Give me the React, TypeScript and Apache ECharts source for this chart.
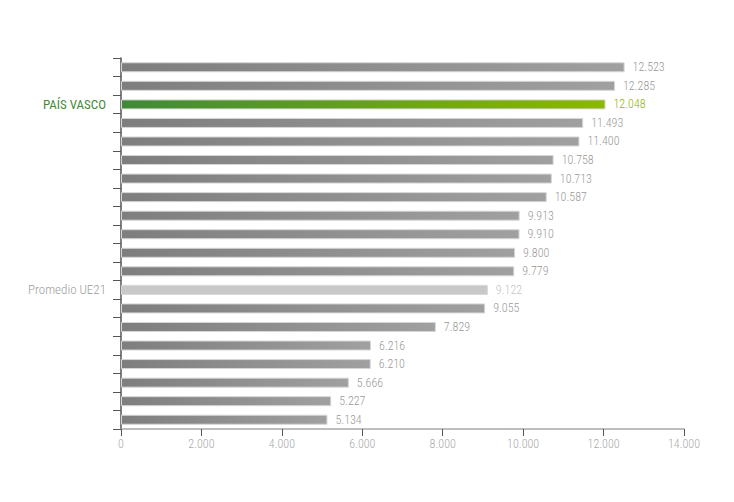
import React, { useEffect, useRef } from "react";
import * as echarts from "echarts";

const categoryLabels: string[] = [
  "", "", "PAÍS VASCO", "", "", "", "", "", "", "", "", "", "Promedio UE21", "", "", "", "", "", "", "",
];
const values: number[] = [
  12523, 12285, 12048, 11493, 11400, 10758, 10713, 10587, 9913, 9910,
  9800, 9779, 9122, 9055, 7829, 6216, 6210, 5666, 5227, 5134,
];
const xTicks: number[] = [0, 2000, 4000, 6000, 8000, 10000, 12000, 14000];

const HIGHLIGHT = "PAÍS VASCO";
const AVERAGE = "Promedio UE21";
const FONT = "'Roboto Condensed', 'DejaVu Sans Condensed', sans-serif";

function fmt(v: number): string {
  return String(Math.round(v)).replace(/\B(?=(\d{3})+(?!\d))/g, ".");
}

export default function App() {
  const ref = useRef<HTMLDivElement>(null);
  useEffect(() => {
    if (!ref.current) return;
    const chart = echarts.init(ref.current, undefined, { renderer: "svg" });
    const grey = new echarts.graphic.LinearGradient(0, 0, 1, 0, [
      { offset: 0, color: "#7e7e7e" },
      { offset: 1, color: "#a0a0a0" },
    ]);
    const green = new echarts.graphic.LinearGradient(0, 0, 1, 0, [
      { offset: 0, color: "#3f8a38" },
      { offset: 1, color: "#8cb800" },
    ]);
    const data = values.map((v, i) => {
      const lab = categoryLabels[i];
      let color: any = grey;
      let labelColor = "#9a9a9a";
      if (lab === HIGHLIGHT) {
        color = green;
        labelColor = "#8cb800";
      } else if (lab === AVERAGE) {
        color = "#c8c8c8";
        labelColor = "#c4c4c4";
      }
      return {
        value: v,
        itemStyle: { color, borderColor: "#d6d6d6", borderWidth: 1 },
        label: { color: labelColor },
      };
    });
    chart.setOption({
      animation: false,
      grid: { left: 121, right: 50, top: 58, bottom: 73, containLabel: false },
      xAxis: {
        type: "value",
        min: xTicks[0],
        max: xTicks[xTicks.length - 1],
        interval: 2000,
        axisLine: { show: true, lineStyle: { color: "#a8a8a8", width: 1.5 } },
        axisTick: { show: true, length: 7, lineStyle: { color: "#555" } },
        splitLine: { show: false },
        axisLabel: {
          color: "#aaaaaa",
          fontSize: 12,
          fontWeight: 300,
          fontFamily: FONT,
          margin: 9,
          formatter: (v: number) => fmt(v),
        },
      },
      yAxis: {
        type: "category",
        inverse: true,
        data: categoryLabels.map((_, i) => String(i)),
        axisLine: { show: true, lineStyle: { color: "#555", width: 1.5 } },
        axisTick: { show: true, length: 8, lineStyle: { color: "#555" } },
        axisLabel: {
          interval: 0,
          fontSize: 13,
          fontFamily: FONT,
          margin: 15,
          formatter: (_: string, i: number) => {
            const l = categoryLabels[i];
            if (l === HIGHLIGHT) return "{h|" + l + "}";
            if (l === AVERAGE) return "{a|" + l + "}";
            return "";
          },
          rich: {
            h: { color: "#468a3a", fontSize: 13, fontWeight: 400, fontFamily: FONT },
            a: { color: "#9c9c9c", fontSize: 13, fontWeight: 300, fontFamily: FONT },
          },
        },
      },
      series: [
        {
          type: "bar",
          barWidth: 10,
          data,
          label: {
            show: true,
            position: "right",
            distance: 8,
            fontSize: 12,
            fontWeight: 300,
            fontFamily: FONT,
            formatter: (p: any) => fmt(p.value),
          },
        },
      ],
    });
    return () => chart.dispose();
  }, []);
  return (
    <div
      ref={ref}
      style={{ position: "fixed", left: 0, top: 0, width: 734, height: 502, background: "#fff" }}
    />
  );
}
